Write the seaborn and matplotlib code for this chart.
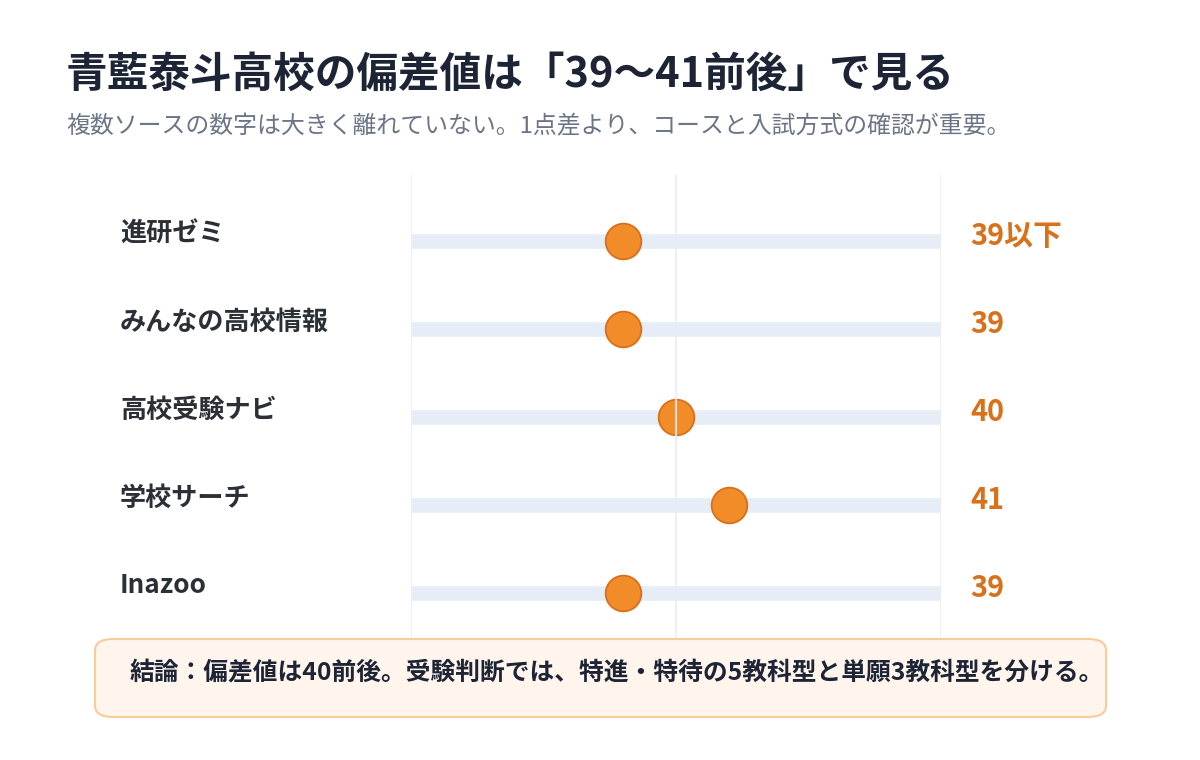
import pandas as pd
import seaborn as sns
import matplotlib.pyplot as plt
from matplotlib import transforms
from matplotlib.patches import FancyBboxPatch

# data
sources = ['進研ゼミ', 'みんなの高校情報', '高校受験ナビ', '学校サーチ', 'Inazoo']
values = [39, 39, 40, 41, 39]
value_labels = ['39以下', '39', '40', '41', '39']
axis_min, axis_max = 35, 45
grid_ticks = [35, 40, 45]

title = '青藍泰斗高校の偏差値は「39〜41前後」で見る'
subtitle = '複数ソースの数字は大きく離れていない。1点差より、コースと入試方式の確認が重要。'
conclusion = '結論：偏差値は40前後。受験判断では、特進・特待の5教科型と単願3教科型を分ける。'

sns.set_theme(style='white')
plt.rcParams['font.family'] = ['Noto Sans CJK JP', 'DejaVu Sans']

df = pd.DataFrame({'source': sources, 'value': values, 'label': value_labels})
df['row'] = range(len(df))

fig = plt.figure(figsize=(12, 7.6), dpi=100)
ax = fig.add_axes([411 / 1200, 1 - 640 / 760, 530 / 1200, 465 / 760])

# background tracks
ax.barh(df['row'], axis_max - axis_min, left=axis_min, height=0.18,
        color='#E6EDF7', zorder=1)

sns.scatterplot(data=df, x='value', y='row', ax=ax, s=660, color='#F28C28',
                edgecolor='#D8701A', linewidth=1.3, zorder=3, legend=False)

for t in grid_ticks:
    ax.axvline(t, color='#E9EEF4', lw=1.6, alpha=0.8, zorder=4)

ax.set_xlim(axis_min, axis_max)
ax.set_ylim(4.534, -0.75)
ax.axis('off')

trans = transforms.blended_transform_factory(fig.transFigure, ax.transData)
for _, r in df.iterrows():
    ax.text(120 / 1200, r['row'] - 0.08, r['source'], transform=trans,
            ha='left', va='center', fontsize=18.8, fontweight='bold', color='#2B2F36')
    ax.text(970 / 1200, r['row'] - 0.06, r['label'], transform=trans,
            ha='left', va='center', fontsize=20.8, fontweight='bold', color='#D9701A')

fig.text(66 / 1200, 1 - 75 / 760, title, ha='left', va='center',
         fontsize=30, fontweight='bold', color='#1C2435')
fig.text(66 / 1200, 1 - 127 / 760, subtitle, ha='left', va='center',
         fontsize=17.2, color='#6B7586')

box = FancyBboxPatch((95 / 1200, 1 - 717 / 760), 1011 / 1200, 78 / 760,
                     boxstyle='round,pad=0,rounding_size=0.015',
                     transform=fig.transFigure, facecolor='#FFF5EC',
                     edgecolor='#F9CB99', linewidth=1.5, zorder=5)
fig.patches.append(box)
fig.text(130 / 1200, 1 - 673 / 760, conclusion, ha='left', va='center',
         fontsize=17.8, fontweight='bold', color='#1C2435', zorder=6)

fig.savefig('out.png', dpi=100, facecolor='white')
